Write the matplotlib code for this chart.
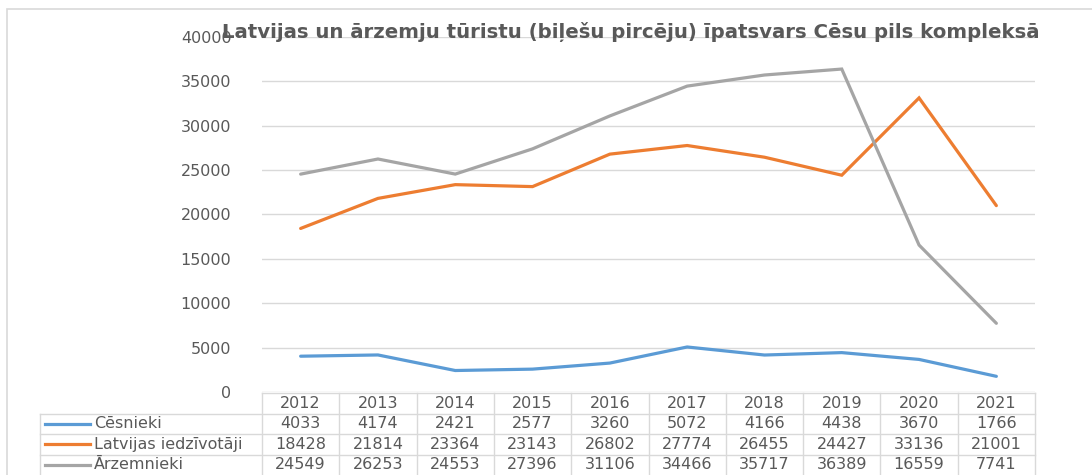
import matplotlib.pyplot as plt
import matplotlib.transforms as mtransforms
from matplotlib.patches import Rectangle
from matplotlib.lines import Line2D

years = ['2012', '2013', '2014', '2015', '2016', '2017', '2018', '2019', '2020', '2021']
cesnieki = [4033, 4174, 2421, 2577, 3260, 5072, 4166, 4438, 3670, 1766]
latvijas = [18428, 21814, 23364, 23143, 26802, 27774, 26455, 24427, 33136, 21001]
arzemnieki = [24549, 26253, 24553, 27396, 31106, 34466, 35717, 36389, 16559, 7741]

series_names = ['Cēsnieki', 'Latvijas iedzīvotāji', 'Ārzemnieki']
series_data = [cesnieki, latvijas, arzemnieki]
colors = ['#5b9bd5', '#ed7d31', '#a5a5a5']

title = 'Latvijas un ārzemju tūristu (biļešu pircēju) īpatsvars Cēsu pils kompleksā'

txt_color = '#595959'
grid_color = '#d9d9d9'
plt.rcParams['font.family'] = ['DejaVu Sans']
fs = 11.5

W, H = 1092, 475
fig = plt.figure(figsize=(W / 100, H / 100), dpi=100)

# chart border
fig.patches.append(Rectangle((7 / W, -0.1), 1.2, 1 - 9 / H + 0.1, transform=fig.transFigure,
                             fill=False, edgecolor='#d9d9d9', linewidth=1.2))

ax = fig.add_axes([262 / W, 1 - 392 / H, (1035 - 262) / W, (392 - 37) / H])
x = list(range(len(years)))
for vals, c in zip(series_data, colors):
    ax.plot(x, vals, color=c, linewidth=2.3, solid_capstyle='round', solid_joinstyle='miter', zorder=3)

ax.set_xlim(-0.5, len(years) - 0.5)
ax.set_ylim(0, 40000)
ax.set_yticks(range(0, 40001, 5000))
ax.set_yticklabels([str(v) for v in range(0, 40001, 5000)])
ax.yaxis.grid(True, color=grid_color, linewidth=1)
ax.set_axisbelow(True)
ax.set_xticks([])
ax.tick_params(axis='y', length=0, pad=22, labelsize=fs, labelcolor=txt_color)
for s in ax.spines.values():
    s.set_visible(False)

fig.text(631 / W, 1 - 32 / H, title, ha='center', va='center', fontsize=14.2,
         fontweight='bold', color=txt_color)

# data table below the axes
trans = mtransforms.blended_transform_factory(ax.transData, ax.transAxes)
ah = 355.0
row_h = 20.5 / ah
top = -1.0 / ah
label_left = (40 - 262) / 773.0 * len(years) - 0.5
tkw = dict(clip_on=False, color=grid_color, linewidth=1)

# header row
ax.add_line(Line2D([-0.5, len(years) - 0.5], [top, top], transform=trans, **tkw))
for i, yr in enumerate(years):
    ax.text(i, top - row_h / 2, yr, transform=trans, ha='center', va='center',
            fontsize=fs, color=txt_color, clip_on=False)
bottom = top - row_h * 4
for k in range(len(years) + 1):
    ax.add_line(Line2D([k - 0.5, k - 0.5], [top, bottom], transform=trans, **tkw))
ax.add_line(Line2D([label_left, label_left], [top - row_h, bottom], transform=trans, **tkw))

for r, (name, vals, c) in enumerate(zip(series_names, series_data, colors)):
    yt = top - row_h * (r + 1)
    ax.add_line(Line2D([label_left, len(years) - 0.5], [yt, yt], transform=trans, **tkw))
    yc = yt - row_h / 2
    ax.add_line(Line2D([label_left + 0.07, label_left + 0.65], [yc, yc], transform=trans,
                       clip_on=False, color=c, linewidth=2.3))
    ax.text(label_left + 0.7, yc, name, transform=trans, ha='left', va='center',
            fontsize=fs, color=txt_color, clip_on=False)
    for i, v in enumerate(vals):
        ax.text(i, yc, str(v), transform=trans, ha='center', va='center',
                fontsize=fs, color=txt_color, clip_on=False)

fig.savefig('out.png', dpi=100)
